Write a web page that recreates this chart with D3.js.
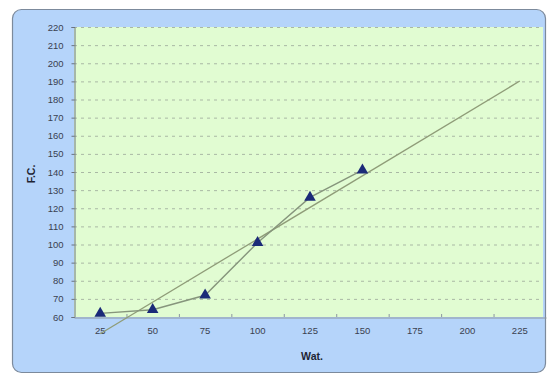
<!DOCTYPE html>
<html><head><meta charset="utf-8">
<script src="https://d3js.org/d3.v7.min.js"></script>
<style>body{margin:0;background:#fff}svg{display:block}</style>
</head><body>
<script>
const categories = [25, 50, 75, 100, 125, 150, 175, 200, 225];
const seriesX = [25, 50, 75, 100, 125, 150];
const seriesY = [62, 64, 72, 101, 126, 141];
const yTicks = [60,70,80,90,100,110,120,130,140,150,160,170,180,190,200,210,220];
const xTitle = "Wat.";
const yTitle = "F.C.";

const W = 547, H = 375;
const svg = d3.select("body").append("svg").attr("width", W).attr("height", H);

// outer chart area
svg.append("rect").attr("x", 12.5).attr("y", 9.5).attr("width", 533).attr("height", 363)
  .attr("rx", 9).attr("fill", "#b5d4fa").attr("stroke", "#7c8a9c").attr("stroke-width", 1.2);

const pl = 74, pr = 546, pt = 27, pb = 317;
const x = d3.scaleBand().domain(categories).range([pl, pr]);
const xc = v => x(v) + x.bandwidth() / 2;
const y = d3.scaleLinear().domain([60, 220]).range([pb, pt]);

svg.append("rect").attr("x", pl).attr("y", pt).attr("width", pr - pl - 3).attr("height", pb - pt)
  .attr("fill", "#e1fcd2");

// gridlines
svg.append("g").selectAll("line").data(yTicks.filter(d => d > 60)).join("line")
  .attr("x1", pl).attr("x2", pr - 3).attr("y1", d => y(d) + 0.5).attr("y2", d => y(d) + 0.5)
  .attr("stroke", "#a9b8a4").attr("stroke-width", 1).attr("stroke-dasharray", "3,4");

// axes
const yAxis = d3.axisLeft(y).tickValues(yTicks).tickSize(3).tickPadding(8);
const gy = svg.append("g").attr("transform", `translate(${pl + 0.5},0)`).call(yAxis);
gy.select(".domain").attr("stroke", "#6b7380");
gy.selectAll(".tick line").attr("stroke", "#6b7380");
gy.selectAll("text").attr("font-family", "Liberation Sans, Arial, sans-serif").attr("font-size", 9.5).attr("fill", "#3a4150");

const xAxis = d3.axisBottom(x).tickSize(0).tickPadding(10);
const gx = svg.append("g").attr("transform", `translate(0,${pb + 0.5})`).call(xAxis);
gx.select(".domain").attr("stroke", "#8c96a0");
gx.selectAll("text").attr("font-family", "Liberation Sans, Arial, sans-serif").attr("font-size", 9.5).attr("fill", "#3a4150");
// category boundary ticks
svg.append("g").selectAll("line").data(categories.slice(1)).join("line")
  .attr("x1", d => x(d) + 0.5).attr("x2", d => x(d) + 0.5).attr("y1", pb - 3).attr("y2", pb)
  .attr("stroke", "#8c96a0");

// titles
svg.append("text").attr("x", (pl + pr) / 2 + 2).attr("y", 360).attr("text-anchor", "middle")
  .attr("font-family", "Liberation Sans, Arial, sans-serif").attr("font-size", 10.5).attr("font-weight", "bold")
  .attr("fill", "#1e2433").text(xTitle);
svg.append("text").attr("transform", `translate(35,${(pt + pb) / 2 + 2}) rotate(-90)`).attr("text-anchor", "middle")
  .attr("font-family", "Liberation Sans, Arial, sans-serif").attr("font-size", 10.5).attr("font-weight", "bold")
  .attr("fill", "#1e2433").text(yTitle);

// linear trend line computed from the series
const mx = d3.mean(seriesX), my = d3.mean(seriesY);
const slope = d3.sum(seriesX.map((v, i) => (v - mx) * (seriesY[i] - my))) / d3.sum(seriesX.map(v => (v - mx) ** 2));
const icpt = my - slope * mx;
const tx0 = categories[0], tx1 = categories[categories.length - 1];
svg.append("line")
  .attr("x1", xc(tx0)).attr("y1", y(icpt + slope * tx0))
  .attr("x2", xc(tx1)).attr("y2", y(icpt + slope * tx1))
  .attr("stroke", "#8f9c78").attr("stroke-width", 1.3);

// series line
const line = d3.line().x((d, i) => xc(seriesX[i])).y(d => y(d));
svg.append("path").datum(seriesY).attr("d", line).attr("fill", "none")
  .attr("stroke", "#86957c").attr("stroke-width", 1.4);

// markers
svg.append("g").selectAll("path").data(seriesY).join("path")
  .attr("transform", (d, i) => `translate(${xc(seriesX[i])},${y(d)})`)
  .attr("d", d3.symbol(d3.symbolTriangle, 58)())
  .attr("fill", "#1b2a78");
</script>
</body></html>
